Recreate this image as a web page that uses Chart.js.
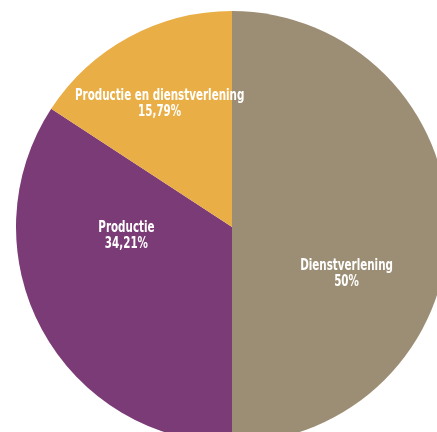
<!DOCTYPE html>
<html>
<head>
<meta charset="utf-8">
<script src="https://cdn.jsdelivr.net/npm/chart.js@4"></script>
<style>
  html, body { margin: 0; padding: 0; background: #fff; overflow: hidden; width: 437px; height: 432px; }
  #wrap { position: absolute; left: 16px; top: 11px; width: 432px; height: 432px; }
</style>
</head>
<body>
<div id="wrap"><canvas id="pie"></canvas></div>
<script>
const sectors = ["Dienstverlening", "Productie", "Productie en dienstverlening"];
const shares = [50, 34.21, 15.79];
const sectorColors = ["#9c8e74", "#7b3b76", "#e9ae45"];

// where each label sits: canvas angle (deg) and fraction of the radius
const labelSpots = [
  { angle: 21.5, r: 0.57 },
  { angle: 176, r: 0.49 },
  { angle: 240, r: 0.67 },
];

const fmtPct = (v) => String(v).replace(".", ",") + "%";

// narrow the bold sans so it reads like a condensed face
const squeeze = 0.69;

const sliceLabels = {
  id: "sliceLabels",
  afterDatasetsDraw(chart) {
    const ctx = chart.ctx;
    const meta = chart.getDatasetMeta(0);
    meta.data.forEach((arc, i) => {
      const { x, y, outerRadius } = arc.getProps(["x", "y", "outerRadius"], true);
      const spot = labelSpots[i];
      const a = (spot.angle * Math.PI) / 180;
      const cx = x + Math.cos(a) * outerRadius * spot.r;
      const cy = y + Math.sin(a) * outerRadius * spot.r;
      ctx.save();
      ctx.translate(cx, cy);
      ctx.scale(squeeze, 1);
      ctx.fillStyle = "#fff";
      ctx.textAlign = "center";
      ctx.textBaseline = "middle";
      ctx.font = "bold 15px 'DejaVu Sans', sans-serif";
      ctx.fillText(sectors[i], 0, -6);
      ctx.fillText(fmtPct(chart.data.datasets[0].data[i]), 0, 10);
      ctx.restore();
    });
  },
};

new Chart(document.getElementById("pie"), {
  type: "pie",
  data: {
    labels: sectors,
    datasets: [{ data: shares, backgroundColor: sectorColors, borderWidth: 0 }],
  },
  options: {
    responsive: true,
    maintainAspectRatio: false,
    animation: false,
    layout: { padding: 0 },
    plugins: { legend: { display: false }, tooltip: { enabled: false } },
  },
  plugins: [sliceLabels],
});
</script>
</body>
</html>
